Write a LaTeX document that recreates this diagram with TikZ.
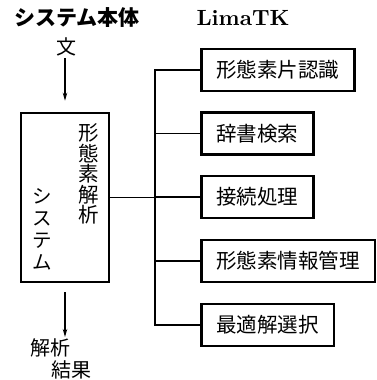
\documentclass[tikz,border=0pt]{standalone}
\usepackage{fontspec}
\newfontfamily\jp{Noto Sans CJK JP}
\usetikzlibrary{arrows.meta}
\tikzset{
  lbox/.style={draw, line width=2.6pt, anchor=west, inner xsep=15pt, inner ysep=0pt,
     minimum height=42pt, font=\jp\fontsize{20.5}{22}\selectfont},
  bus/.style={line width=1.3pt},
  arr/.style={line width=1.2pt, -{Stealth[length=8pt,width=4.5pt]}},
  vtxt/.style={align=center, inner sep=0pt},
}
\begin{document}
\begin{tikzpicture}[x=1pt,y=-1pt]
\useasboundingbox (0,0) rectangle (377,380);
% titles
\node[inner sep=0pt, font=\jp\bfseries\fontsize{21}{22}\selectfont] (sys) at (77,18) {システム本体};
\node[inner sep=0pt] (lima) at (243,18) {\resizebox{93pt}{!}{\bfseries LimaTK}};
% input
\node[inner sep=0pt, font=\jp\fontsize{20}{22}\selectfont] (bun) at (66,47) {文};
% main box
\node[draw, line width=2.6pt, minimum width=88pt, minimum height=169pt, inner sep=0pt] (main) at (65,197.5) {};
\node[vtxt, font=\jp\fontsize{20.5}{20.6}\selectfont] (t1) at (89,174) {形\\態\\素\\解\\析};
\node[vtxt, font=\jp\fontsize{19.5}{22}\selectfont] (t2) at (42,229) {シ\\ス\\テ\\ム};
% output
\node[inner sep=0pt, font=\jp\fontsize{20}{22}\selectfont] (res1) at (50,348) {解析};
\node[inner sep=0pt, font=\jp\fontsize{20}{22}\selectfont] (res2) at (71,370) {結果};
\coordinate (restop) at (65,337);
% right boxes
\node[lbox] (b1) at (200,70) {形態素片認識};
\node[lbox] (b2) at (200,133.5) {辞書検索};
\node[lbox] (b3) at (200,197) {接続処理};
\node[lbox] (b4) at (200,261) {形態素情報管理};
\node[lbox] (b5) at (200,325) {最適解選択};
% bus
\coordinate (bt) at (155,70);
\coordinate (bb) at (155,325);
\draw[bus] (b1.west) -- (bt) -- (bb) -- (b5.west);
\draw[bus] (b2.west) -- (b2.west -| bt);
\draw[bus] (b3.west) -- (b3.west -| bt);
\draw[bus] (b4.west) -- (b4.west -| bt);
\draw[bus] (main.east) -- (main.east -| bt);
% arrows
\draw[arr, shorten >=11pt, shorten <=2pt] (bun.south -| main.north) -- (main.north);
\draw[arr, shorten <=9pt] (main.south) -- (restop);
\end{tikzpicture}
\end{document}
